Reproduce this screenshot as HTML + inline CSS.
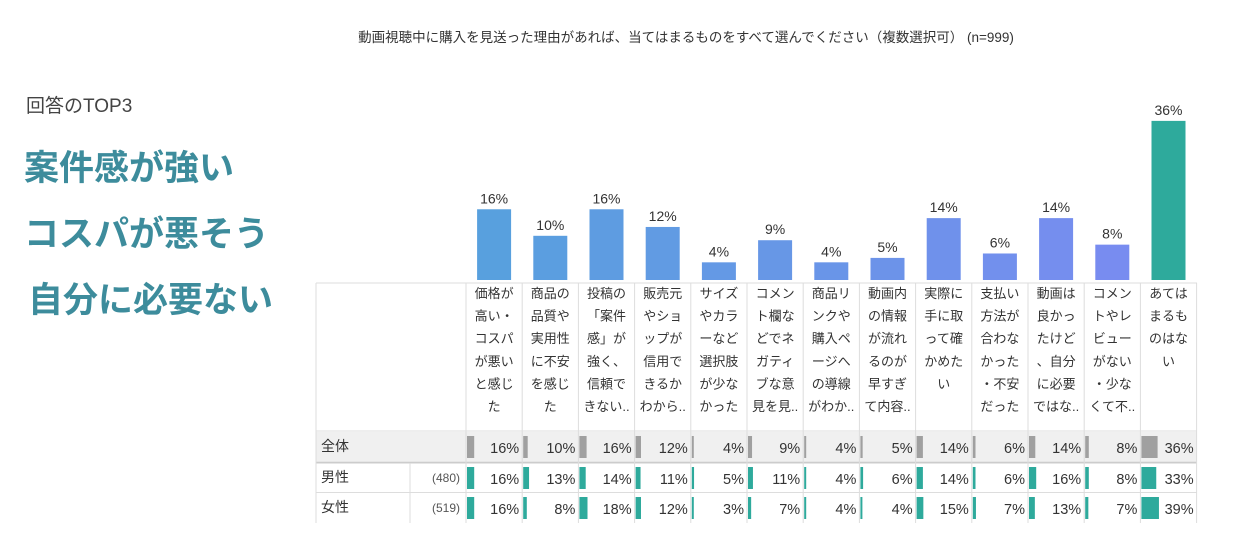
<!DOCTYPE html>
<html><head><meta charset="utf-8"><style>
body{margin:0;background:#fff;width:1242px;height:543px;overflow:hidden;font-family:"Liberation Sans","Noto Sans CJK JP",sans-serif;}
svg text{font-family:"Liberation Sans","Noto Sans CJK JP",sans-serif;}
</style></head><body>
<svg width="1242" height="543">
<text x="686" y="42" font-size="13.5" fill="#333" text-anchor="middle">動画視聴中に購入を見送った理由があれば、当てはまるものをすべて選んでください（複数選択可） (n=999)</text>
<text x="26" y="112" font-size="19" fill="#444">回答のTOP3</text>
<g font-size="35" font-weight="bold" fill="#3d8c9c">
<text x="24" y="180">案件感が強い</text>
<text x="24" y="246">コスパが悪そう</text>
<text x="28" y="312">自分に必要ない</text>
</g>
<g id="plot"></g>
</svg>
<script>
const categories=[["価格が","高い・","コスパ","が悪い","と感じ","た"],["商品の","品質や","実用性","に不安","を感じ","た"],["投稿の","「案件","感」が","強く、","信頼で","きない.."],["販売元","やショ","ップが","信用で","きるか","わから.."],["サイズ","やカラ","ーなど","選択肢","が少な","かった"],["コメン","ト欄な","どでネ","ガティ","ブな意","見を見.."],["商品リ","ンクや","購入ペ","ージへ","の導線","がわか.."],["動画内","の情報","が流れ","るのが","早すぎ","て内容.."],["実際に","手に取","って確","かめた","い"],["支払い","方法が","合わな","かった","・不安","だった"],["動画は","良かっ","たけど","、自分","に必要","ではな.."],["コメン","トやレ","ビュー","がない","・少な","くて不.."],["あては","まるも","のはな","い"]];
const totalValues=[16,10,16,12,4,9,4,5,14,6,14,8,36];
const maleValues=[16,13,14,11,5,11,4,6,14,6,16,8,33];
const femaleValues=[16,8,18,12,3,7,4,4,15,7,13,7,39];
const rowLabels=["全体","男性","女性"];
const rowCounts=["","(480)","(519)"];
const NS="http://www.w3.org/2000/svg";
const g=document.getElementById('plot');
function el(t,a,txt){const e=document.createElementNS(NS,t);for(const k in a)e.setAttribute(k,a[k]);if(txt!==undefined)e.textContent=txt;g.appendChild(e);return e;}
const x0=466,cw=56.2,base=280,pxPer=4.42;
const xCol=i=>x0+i*cw;
const yVal=v=>base-v*pxPer;
const rowsY=[432,463,493],rowH=29;
// row backgrounds
let r=el('rect',{x:316,y:432,width:881,height:29,fill:'#f0f0f0'});

el('line',{x1:316,x2:1197,y1:283,y2:283,stroke:'#ddd'});
el('line',{x1:316,x2:1197,y1:431,y2:431,stroke:'#ddd'});
el('line',{x1:316,x2:1197,y1:462.5,y2:462.5,stroke:'#ccc','stroke-width':2});
el('line',{x1:316,x2:1197,y1:492.5,y2:492.5,stroke:'#ddd'});
el('line',{x1:316,x2:316,y1:283,y2:523,stroke:'#ddd'});
el('line',{x1:410,x2:410,y1:463,y2:523,stroke:'#ddd'});
for(let i=0;i<=categories.length;i++){el('line',{x1:xCol(i),x2:xCol(i),y1:283,y2:523,stroke:'#ddd'});}
rowLabels.forEach((l,j)=>{
 let t=el('text',{x:321,y:rowsY[j]+19,'font-size':14,fill:'#333'},l);
 
 if(rowCounts[j]){let c=el('text',{x:460,y:rowsY[j]+19,'font-size':12,fill:'#555','text-anchor':'end'},rowCounts[j]);
 }
});
const rowsData=[totalValues,maleValues,femaleValues];
categories.forEach((cat,i)=>{
 const v=totalValues[i],last=i===categories.length-1;
 const t=i/(categories.length-2);
 const col=last?'#2eaa9c':`rgb(${Math.round(88+32*t)},${Math.round(160-20*t)},${Math.round(222+18*t)})`;
 let b=el('rect',{x:xCol(i)+cw/2-17,y:yVal(v),width:34,height:base-yVal(v),fill:col});
 
 let lb=el('text',{x:xCol(i)+cw/2,y:yVal(v)-6,'font-size':14,fill:'#333','text-anchor':'middle'},v+'%');
 
 cat.forEach((line,k)=>{let ct=el('text',{x:xCol(i)+cw/2,y:298+k*22.6,'font-size':13,fill:'#333','text-anchor':'middle'},line);
 });
 rowsData.forEach((arr,j)=>{
  const w=Math.max(2,arr[i]*0.45);
  let mb=el('rect',{x:xCol(i)+1,y:rowsY[j]+4,width:w,height:rowH-7,fill:j===0?'#a0a0a0':'#2eaa9c'});
  
  let tv=el('text',{x:xCol(i)+cw-3,y:rowsY[j]+21,'font-size':14.5,fill:'#333','text-anchor':'end'},arr[i]+'%');
  
 });
});
</script>
</body></html>
